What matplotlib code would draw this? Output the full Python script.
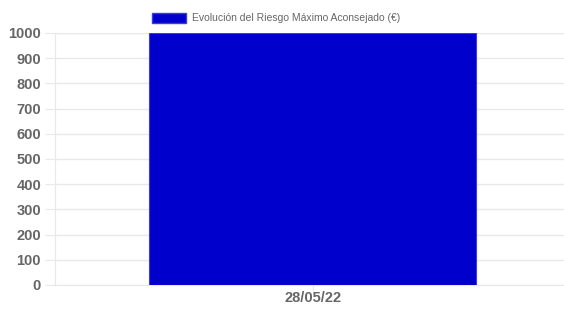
import matplotlib.pyplot as plt
from matplotlib.patches import Patch

# datos del gráfico
fechas = ['28/05/22']
riesgo = [1000]
ticks_y = [0, 100, 200, 300, 400, 500, 600, 700, 800, 900, 1000]
serie = 'Evolución del Riesgo Máximo Aconsejado (€)'

plt.rcParams['font.family'] = ['Liberation Sans', 'DejaVu Sans']

fig = plt.figure(figsize=(5.64, 3.12), dpi=100)
ax = fig.add_axes([55 / 564, 1 - 285 / 312, (564 - 55) / 564, (285 - 33) / 312])

x = list(range(len(fechas)))
ax.bar(x, riesgo, width=0.635, color='#0000CC', edgecolor='#3c3ce0', linewidth=0.8, zorder=3)

ax.set_xlim(-0.5, len(fechas) - 0.512)
ax.set_ylim(0, 1000)
ax.set_yticks(ticks_y)
ax.set_xticks(x)
ax.set_xticklabels(fechas)

ax.grid(axis='y', color='#e8e8e8', linewidth=1, zorder=0)
ax.tick_params(axis='y', length=7, color='#e8e8e8', pad=3, labelsize=10.5, labelcolor='#666666')
ax.tick_params(axis='x', length=4, color='#e8e8e8', pad=0, labelsize=10.5, labelcolor='#666666')
for lab in ax.get_yticklabels() + ax.get_xticklabels():
    lab.set_fontweight('bold')

for side in ['top', 'right']:
    ax.spines[side].set_visible(False)
ax.spines['left'].set_color('#e8e8e8')
ax.spines['bottom'].set_color('#e8e8e8')

leg = fig.legend(handles=[Patch(facecolor='#0000CC', edgecolor='#3c3ce0')], labels=[serie],
                 loc='center', bbox_to_anchor=(276 / 564, 1 - 18 / 312), frameon=False,
                 fontsize=7.5, handlelength=3.3, handleheight=1.1, handletextpad=0.5)
for t in leg.get_texts():
    t.set_color('#666666')

fig.savefig('out.png', dpi=100)
